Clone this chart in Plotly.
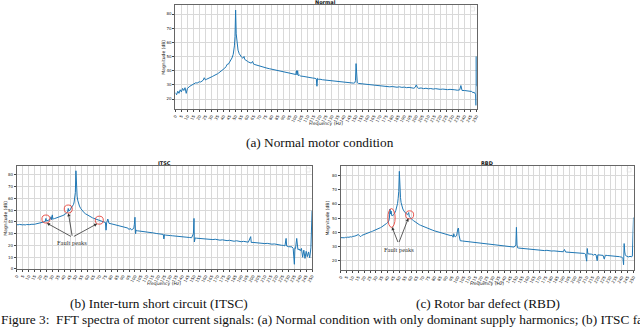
import plotly.graph_objects as go

# --- spectrum values (Hz, dB) ---
normal_freq = [0, 1, 2, 3, 4, 5, 6, 7, 8, 9, 10, 11, 12, 13, 14, 15, 16, 17, 18, 19,
               20, 21, 22, 23, 24, 25, 26, 27, 28, 29, 30, 31, 32, 33, 34, 35, 36, 37, 38, 39,
               40, 41, 42, 43, 44, 45, 46, 47, 48, 48.5, 49, 49.5, 50, 50.5, 51, 51.5, 52, 53, 54, 55,
               56, 57, 57.5, 58, 59, 60, 61, 62, 63, 64, 65, 66, 67, 68, 69, 70, 72, 74, 76, 78,
               80, 82, 84, 86, 88, 90, 92, 94, 96, 98, 100, 100.5, 101, 101.5, 102, 103, 104, 106, 108, 110,
               112, 114, 116, 117, 117.5, 118, 119, 120, 122, 124, 126, 128, 130, 132, 134, 136, 138, 140, 142, 144,
               146, 148, 149, 149.5, 150, 150.5, 151, 152, 154, 156, 158, 160, 162, 164, 166, 168, 170, 172, 174, 176,
               178, 180, 182, 184, 186, 188, 190, 192, 194, 196, 198, 199, 200, 201, 202, 204, 206, 208, 210, 212,
               214, 216, 218, 220, 222, 224, 226, 228, 230, 232, 234, 236, 237, 238, 240, 242, 244, 246, 247, 248,
               249, 249.3, 249.6, 249.8, 250]
normal_mag = [24.5, 23, 25.5, 24, 26.5, 25, 27.5, 26, 28, 24, 27.5, 28.5, 29, 29.5, 30, 30.2, 30.5, 31.5, 31.2, 31.8,
              32.2, 32, 32.8, 33.2, 35, 33.4, 34, 34.3, 34.8, 35.2, 35.5, 36, 36.5, 36.8, 37.3, 37.8, 38.4, 39, 39.6, 40.2,
              41, 41.8, 42.8, 44.5, 44.6, 45.8, 47.2, 49, 51.5, 54, 57.5, 64, 82.8, 66, 60, 56.5, 54.5, 52, 50.5, 49.5,
              48.8, 50, 48, 47.6, 47, 46.5, 46, 45.6, 45.3, 46.5, 44.6, 44.3, 44, 43.7, 43.4, 43.1, 42.6, 42.2, 41.8, 41.4,
              41, 40.6, 40.3, 40, 39.6, 39.2, 38.8, 38.5, 38.1, 37.8, 37.3, 40, 37, 40, 36.5, 36.9, 36.2, 36, 35.6, 35.4,
              35.1, 34.8, 34.6, 34.2, 29, 34.6, 33.8, 34, 33.6, 33.4, 33.3, 33, 32.8, 32.6, 32.3, 32.2, 32, 31.8, 31.6, 31.5,
              31.3, 31.2, 31.5, 33, 45, 33, 31.5, 31, 30.8, 30.6, 30.5, 30.2, 30, 29.8, 29.7, 29.4, 29.5, 29.2, 28.8, 29,
              28.6, 28.8, 28.5, 28.3, 28.6, 28.2, 28.4, 28, 28.2, 27.8, 27.6, 28.2, 30, 28, 27.5, 27.8, 27.3, 27.6, 27.2, 27.4,
              27, 27.3, 27, 26.8, 27, 26.7, 26.6, 26.8, 26.4, 26.5, 26.2, 26.4, 29.5, 26, 26, 25.8, 25.6, 25.3, 24.5, 24.8,
              23.5, 23, 15.5, 50, 29]

itsc_freq = [0, 1, 2, 3, 4, 5, 6, 7, 8, 9, 10, 11, 12, 13, 14, 15, 16, 17, 18, 19,
             20, 21, 22, 23, 24, 24.6, 25, 26, 27, 28, 29, 29.5, 30, 30.5, 31, 32, 33, 34, 35, 36,
             37, 38, 39, 40, 41, 42, 43, 43.5, 44, 45, 46, 47, 48, 48.5, 49, 49.5, 50, 50.5, 51, 51.5,
             52, 53, 54, 55, 56, 57, 58, 59, 60, 61, 62, 63, 64, 65, 66, 67, 68, 69, 70, 71,
             72, 73, 74, 75, 75.5, 76, 77, 77.5, 78, 80, 82, 84, 86, 88, 90, 92, 94, 95, 96, 97,
             98, 99, 99.5, 100, 100.5, 101, 102, 104, 106, 108, 110, 112, 114, 116, 118, 120, 122, 124, 124.5, 125,
             126, 128, 130, 132, 134, 136, 138, 140, 142, 144, 146, 148, 149.5, 150, 150.3, 151, 152, 154, 156, 158,
             160, 162, 164, 166, 168, 170, 172, 174, 176, 178, 180, 182, 184, 186, 188, 190, 192, 194, 196, 198,
             198.5, 200, 202, 204, 206, 208, 210, 212, 214, 216, 218, 220, 222, 224, 226, 227, 228, 228.5, 230, 232,
             233, 234, 235, 235.5, 236, 237, 237.5, 238, 239, 240, 241, 242, 243, 244, 245, 246, 247, 248, 249, 250]
itsc_mag = [37.8, 37.5, 37.9, 37.6, 37.8, 37.5, 37.7, 37.4, 37.8, 37.6, 37.9, 37.7, 38, 37.8, 38.2, 38, 38.3, 38.5, 38.4, 38.7,
            38.9, 39.2, 39.6, 40, 40.4, 43, 40.8, 41.2, 41.6, 42, 44.5, 41.8, 46, 42.5, 42.6, 42.9, 43.2, 43.6, 43.9, 44.3,
            44.7, 45.2, 45.5, 46, 46.8, 47.5, 48.4, 51.5, 49.2, 50.2, 51.5, 53, 55, 57, 60, 65, 83.5, 68, 62, 58.5,
            56.5, 53.5, 51.5, 50, 48.8, 47.8, 47, 46.3, 45.6, 45, 44.5, 44, 43.5, 43.1, 42.7, 42.3, 41.9, 41.5, 41.3, 40.8,
            40.5, 40.1, 39.8, 39.5, 33, 39.2, 42.5, 38.8, 38.8, 38.4, 37.8, 37.3, 36.8, 36.2, 35.8, 35.3, 34.8, 33.5, 34.6, 33.2,
            33.8, 34.5, 38, 44, 30, 33, 32.5, 32.3, 31.8, 31.5, 31.2, 31.4, 30.8, 30.6, 30.2, 30, 29.6, 29.4, 25.5, 29.2,
            28.8, 28.9, 28.4, 28.2, 27.9, 28, 27.6, 27.4, 27.3, 27, 26.8, 26.6, 30, 43, 23, 26.4, 26.2, 26, 25.8, 26.2,
            25.5, 25.7, 25.2, 25, 25.3, 24.8, 24.5, 24.8, 24.3, 24.1, 24.4, 23.9, 23.6, 24, 23.4, 23.2, 23.5, 23, 22.8, 27.5,
            22.5, 22.6, 22.3, 22.5, 22, 21.8, 21.6, 21.8, 21.3, 21.1, 21.3, 20.8, 20.5, 20.2, 20, 19.6, 26, 19.5, 19, 18.5,
            18.8, 17.5, 4, 18, 17.5, 26, 17, 16.5, 17, 15.5, 17.5, 10, 16, 9, 15, 10.5, 14.5, 9.5, 18, 49.5]

rbd_freq = [0, 1, 2, 3, 4, 5, 6, 7, 8, 9, 10, 11, 12, 13, 14, 15, 16, 17, 18, 19,
            20, 21, 22, 23, 24, 25, 26, 27, 28, 29, 30, 31, 32, 33, 34, 35, 36, 37, 38, 39,
            40, 41, 41.5, 42, 42.5, 43, 43.5, 44, 45, 46, 47, 48, 48.5, 49, 49.5, 50, 50.5, 51, 51.5, 52,
            53, 54, 55, 56, 57, 57.5, 58, 58.5, 59, 60, 61, 62, 63, 64, 65, 66, 67, 68, 69, 70,
            72, 74, 76, 78, 80, 82, 84, 86, 88, 90, 92, 94, 95, 96, 96.5, 97, 98, 99, 100, 100.5,
            101, 101.5, 102, 104, 106, 108, 110, 112, 114, 116, 118, 120, 122, 124, 126, 128, 130, 132, 134, 136,
            138, 140, 142, 144, 146, 148, 149.5, 150, 150.5, 151, 152, 154, 156, 158, 160, 162, 164, 166, 168, 170,
            172, 174, 176, 178, 180, 182, 184, 186, 188, 190, 191, 192, 194, 196, 198, 200, 202, 204, 206, 208,
            209, 210, 210.5, 211, 212, 214, 216, 217, 218, 219, 219.5, 220, 222, 224, 225, 225.5, 226, 228, 230, 232,
            234, 236, 238, 240, 241, 241.5, 242, 242.5, 243, 244, 245, 246, 247, 248, 249, 249.5, 250]
rbd_mag = [36.2, 36, 36.3, 36.1, 36.4, 36.2, 36.6, 36.4, 36.8, 36.6, 37, 36.9, 37.3, 37.6, 38.2, 38.4, 37.5, 36.9, 37.8, 38.2,
           38.6, 38.9, 39.2, 39.5, 39.8, 40.1, 40.4, 40.7, 41, 41.4, 41.7, 42, 42.4, 42.8, 43.3, 43.8, 44.3, 44.9, 45.5, 46.2,
           47, 48, 50, 56.5, 53, 55, 52, 51.5, 52.5, 53.5, 55.5, 58, 60.5, 64, 69, 83.2, 70, 64.5, 61, 58.5,
           56.5, 55, 53.8, 53, 52.5, 53.5, 54, 51, 50.5, 49.8, 49, 48.3, 47.6, 47, 46.4, 45.9, 45.4, 45, 44.6, 44.2,
           43.5, 42.8, 42.2, 41.6, 41, 40.5, 40, 39.5, 39, 38.5, 38.1, 37.6, 37.9, 36.5, 39, 37.2, 36.8, 38, 42.5, 43,
           38, 35, 34, 33.8, 33.6, 33.4, 33.2, 33, 32.8, 32.5, 32.3, 32, 32.2, 31.7, 31.5, 31.6, 31.2, 31, 30.9, 30.6,
           30.5, 30.3, 30.1, 29.9, 29.7, 29.5, 31, 43.5, 31, 29, 28.8, 28.6, 28.5, 28.3, 28.2, 28, 27.8, 27.9, 27.6, 27.4,
           27.3, 27, 27.2, 26.8, 26.7, 26.8, 26.5, 26.4, 26.3, 26.2, 27.8, 26, 25.9, 25.8, 25.7, 25.6, 25.4, 25.3, 25.2, 25,
           24.5, 19.5, 28.5, 24.8, 24.6, 24.5, 23.8, 24.4, 24, 19.8, 24, 23.9, 23.8, 23.6, 21, 23.5, 23.7, 23.5, 23.4, 23.3,
           23.1, 22.9, 22.7, 22.3, 21.5, 17, 32, 26, 24, 23, 22.8, 22.5, 23, 22.6, 23, 35, 50.5]

x_ticks = list(range(0, 251, 5))

# annotation anchors (Hz, dB)
itsc_circles = [(24.6, 42.5), (43.5, 51.0), (69.8, 41.5)]
itsc_arrow_tips = [(25.4, 39.0), (43.6, 47.5), (68.0, 38.5)]
itsc_label = (47, 22.5)
itsc_arrow_base = (47, 27)
rbd_ellipses = [(40.2, 43.5, 46.4, 56.8), (55.4, 49.5, 62.2, 55.2)]
rbd_arrow_tips = [(43.7, 43.7), (57.7, 50.0)]
rbd_label = (50, 28)
rbd_arrow_base = (49.3, 32)

blue = '#1f77b4'
fig = go.Figure()
fig.add_trace(go.Scatter(x=normal_freq, y=normal_mag, mode='lines', line=dict(color=blue, width=1),
                         xaxis='x', yaxis='y', showlegend=False))
fig.add_trace(go.Scatter(x=itsc_freq, y=itsc_mag, mode='lines', line=dict(color=blue, width=1),
                         xaxis='x2', yaxis='y2', showlegend=False))
fig.add_trace(go.Scatter(x=rbd_freq, y=rbd_mag, mode='lines', line=dict(color=blue, width=1),
                         xaxis='x3', yaxis='y3', showlegend=False))

tickfont = dict(family='DejaVu Sans', size=4, color='#222')
def xax(dom, anchor):
    return dict(domain=dom, anchor=anchor, range=[0, 250], tickvals=x_ticks, tickangle=-60,
                tickfont=tickfont, ticks='outside', ticklen=2, tickcolor='#444',
                showgrid=True, gridcolor='#d9d9d9', gridwidth=1, zeroline=False,
                showline=True, linecolor='#666', linewidth=0.8, mirror=True)
def yax(dom, anchor, rng, vals):
    return dict(domain=dom, anchor=anchor, range=rng, tickvals=vals,
                tickfont=tickfont, ticks='outside', ticklen=2, tickcolor='#444',
                showgrid=True, gridcolor='#d9d9d9', gridwidth=1, zeroline=False,
                showline=True, linecolor='#666', linewidth=0.8, mirror=True)

fig.update_layout(
    width=640, height=328, margin=dict(l=0, r=0, t=0, b=0),
    paper_bgcolor='white', plot_bgcolor='white',
    xaxis=xax([0.2719, 0.7469], 'y'),
    yaxis=yax([0.6646, 0.9848], 'x', [12.7, 86.4], list(range(20, 81, 10))),
    xaxis2=xax([0.0219, 0.4875], 'y2'),
    yaxis2=yax([0.1738, 0.4909], 'x2', [-0.3, 87.6], list(range(0, 81, 10))),
    xaxis3=xax([0.5328, 0.9945], 'y3'),
    yaxis3=yax([0.1707, 0.4909], 'x3', [13, 87], list(range(20, 81, 10))),
)

small = dict(family='DejaVu Sans', size=4.5, color='#222')
serif = dict(family='Liberation Serif', size=13.3, color='#111')
ann = []
def paper_text(x, y, text, font, xanchor='center', **kw):
    ann.append(dict(x=x / 640, y=1 - y / 328, xref='paper', yref='paper', text=text,
                    showarrow=False, font=font, xanchor=xanchor, yanchor='middle', **kw))

# subplot titles
paper_text(326, 2.5, '<b>Normal</b>', dict(family='DejaVu Sans', size=5, color='#111'))
paper_text(163, 164, '<b>ITSC</b>', dict(family='DejaVu Sans', size=5, color='#111'))
paper_text(489, 164, '<b>RBD</b>', dict(family='DejaVu Sans', size=5, color='#111'))
# axis titles
paper_text(326, 124, 'Frequency (Hz)', small)
paper_text(163, 285, 'Frequency (Hz)', small)
paper_text(489, 285, 'Frequency (Hz)', small)
paper_text(162.5, 57, 'Magnitude (dB)', small, textangle=-90)
paper_text(3, 219, 'Magnitude (dB)', small, textangle=-90)
paper_text(328, 219, 'Magnitude (dB)', small, textangle=-90)
# captions
paper_text(320, 143, '(a) Normal motor condition', serif)
paper_text(157, 305, '(b) Inter-turn short circuit (ITSC)', serif)
paper_text(490, 305, '(c) Rotor bar defect (RBD)', serif)
paper_text(-4, 321, 'Figure 3:  FFT spectra of motor current signals: (a) Normal condition with only dominant supply harmonics; (b) ITSC fault',
           serif, xanchor='left')

# fault peak markers
shapes = []
for cx, cy in itsc_circles:
    shapes.append(dict(type='circle', xref='x2', yref='y2', x0=cx - 3.4, x1=cx + 3.4,
                       y0=cy - 3.4, y1=cy + 3.4, line=dict(color='#e8453c', width=0.9)))
for x0, y0, x1, y1 in rbd_ellipses:
    shapes.append(dict(type='circle', xref='x3', yref='y3', x0=x0, x1=x1, y0=y0, y1=y1,
                       line=dict(color='#e8453c', width=0.9)))
for tx, ty in itsc_arrow_tips:
    ann.append(dict(x=tx, y=ty, xref='x2', yref='y2', ax=itsc_arrow_base[0], ay=itsc_arrow_base[1],
                    axref='x2', ayref='y2', showarrow=True, arrowhead=2, arrowsize=0.8,
                    arrowwidth=0.8, arrowcolor='#333', text=''))
for tx, ty in rbd_arrow_tips:
    ann.append(dict(x=tx, y=ty, xref='x3', yref='y3', ax=rbd_arrow_base[0], ay=rbd_arrow_base[1],
                    axref='x3', ayref='y3', showarrow=True, arrowhead=2, arrowsize=0.8,
                    arrowwidth=0.8, arrowcolor='#333', text=''))
ann.append(dict(x=itsc_label[0], y=itsc_label[1], xref='x2', yref='y2', text='Fault peaks',
                showarrow=False, font=dict(family='Liberation Serif', size=6.5, color='#333')))
ann.append(dict(x=rbd_label[0], y=rbd_label[1], xref='x3', yref='y3', text='Fault peaks',
                showarrow=False, font=dict(family='Liberation Serif', size=6.5, color='#333')))

# empty legend boxes
for x1, y0 in [(476, 7), (310, 169), (634, 169)]:
    shapes.append(dict(type='rect', xref='paper', yref='paper', x0=(x1 - 4) / 640, x1=x1 / 640,
                       y0=1 - (y0 + 4) / 328, y1=1 - y0 / 328, line=dict(color='#ddd', width=0.6)))

fig.update_layout(annotations=ann, shapes=shapes)
fig.write_html("out.html", config={'displayModeBar': False},
               post_script="document.body.style.margin='0';document.body.style.padding='0';")
